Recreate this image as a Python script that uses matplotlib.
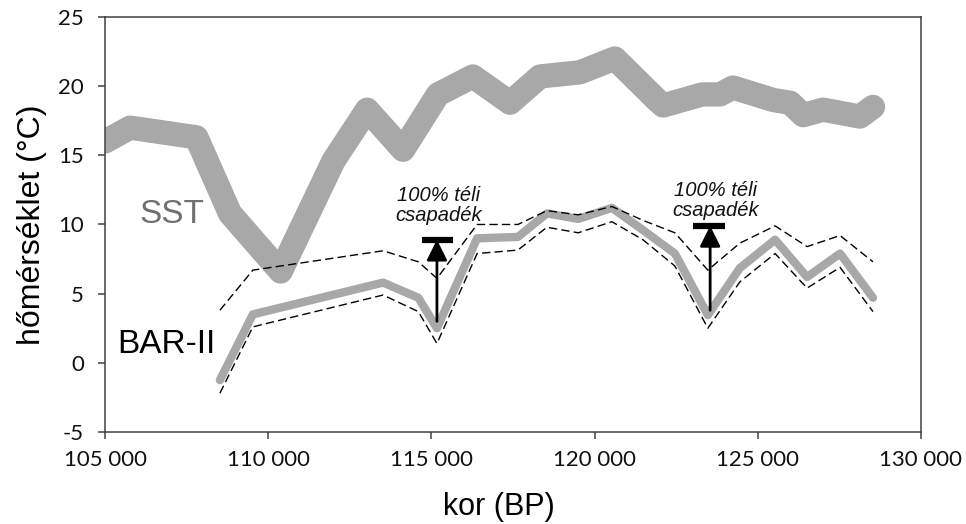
## plot.py
# SST and BAR-II temperature reconstructions vs age

import matplotlib
matplotlib.use("Agg")
import matplotlib.pyplot as plt
from matplotlib.ticker import FuncFormatter, MultipleLocator

# ===== Data =====
sst_age = [105000, 105770, 107800, 108830, 110380, 112000, 113030, 114130, 115200,
           116270, 117410, 118330, 119550, 120620, 121910, 122100, 122700, 123290,
           123840, 124240, 125470, 125990, 126390, 127000, 128130, 128530]
sst_temp = [16.0, 17.0, 16.3, 10.8, 6.6, 14.6, 18.3, 15.4, 19.4,
            20.7, 18.8, 20.7, 21.0, 22.0, 19.0, 18.6, 19.0, 19.4,
            19.4, 19.9, 19.0, 18.8, 17.9, 18.3, 17.8, 18.5]

bar_age = [108520, 109530, 113520, 114600, 115170, 116400, 117650, 118540, 119500,
           120530, 121480, 122460, 123470, 124450, 125530, 126510, 127520, 128530]
bar_temp = [-1.25, 3.5, 5.8, 4.7, 2.5, 9.0, 9.1, 10.8, 10.4,
            11.2, 9.6, 7.9, 3.45, 6.85, 8.9, 6.2, 7.9, 4.7]
bar_upper = [3.8, 6.7, 8.1, 7.3, 6.1, 10.0, 10.0, 11.0, 10.7,
             11.3, 10.3, 9.4, 6.7, 8.65, 9.9, 8.4, 9.2, 7.3]
bar_lower = [-2.2, 2.6, 4.9, 3.7, 1.4, 7.9, 8.15, 9.8, 9.4,
             10.2, 8.9, 7.0, 2.5, 5.85, 7.9, 5.4, 6.9, 3.7]

# arrows "100% winter precipitation"
arrow_age = [115170, 123540]
arrow_from = [3.0, 3.8]
arrow_to = [8.9, 9.9]
bar_left = [114710, 123010]
bar_right = [115660, 123990]
note_age = [115230, 123720]
note_y = [11.35, 11.75]
note_text = "100% téli\ncsapadék"

x_ticks = [105000, 110000, 115000, 120000, 125000, 130000]

# ===== Plot =====
plt.rcParams["font.family"] = ["Liberation Sans", "DejaVu Sans"]

fig = plt.figure(figsize=(9.66, 5.24), dpi=100)
ax = fig.add_axes([0.1087, 0.1756, 0.8447, 0.792])

gray = "#a8a8a8"
ax.plot(sst_age, sst_temp, color=gray, lw=17.5, solid_capstyle="round",
        solid_joinstyle="round", zorder=2)
ax.plot(bar_age, bar_temp, color=gray, lw=6, solid_capstyle="round",
        solid_joinstyle="round", zorder=2)
ax.plot(bar_age, bar_upper, color="black", lw=1.0, dashes=(6, 3), zorder=3)
ax.plot(bar_age, bar_lower, color="black", lw=1.0, dashes=(6, 3), zorder=3)

for i in range(len(arrow_age)):
    ax.annotate("", xy=(arrow_age[i], arrow_to[i]), xytext=(arrow_age[i], arrow_from[i]),
                arrowprops=dict(arrowstyle="-|>,head_length=0.5,head_width=0.25",
                                color="black", lw=2, mutation_scale=25,
                                shrinkA=0, shrinkB=0), zorder=4)
    ax.plot([bar_left[i], bar_right[i]], [arrow_to[i], arrow_to[i]], color="black",
            lw=4.5, solid_capstyle="butt", zorder=4)
    ax.text(note_age[i], note_y[i], note_text, ha="center", va="center",
            fontsize=14.5, style="italic", linespacing=1.05, color="#111111")

ax.text(107050, 10.7, "SST", fontsize=24, color="#707070", ha="center", va="center")
ax.text(106870, 1.3, "BAR-II", fontsize=24, color="black", ha="center", va="center")

# ===== Axes =====
ax.set_xlim(105000, 130000)
ax.set_ylim(-5, 25)
ax.set_xticks(x_ticks)
ax.yaxis.set_major_locator(MultipleLocator(5))
ax.xaxis.set_major_formatter(FuncFormatter(lambda v, p: f"{v:,.0f}".replace(",", " ")))
ax.yaxis.set_major_formatter(FuncFormatter(lambda v, p: f"{v:.0f}"))

for s in ax.spines.values():
    s.set_color("#404040")
    s.set_linewidth(1.1)
ax.tick_params(axis="both", direction="out", length=5, width=1.1, color="#404040",
               labelsize=16, labelcolor="#111111")
ax.tick_params(axis="y", pad=10)
ax.tick_params(axis="x", pad=8)
for lab in ax.get_xticklabels() + ax.get_yticklabels():
    lab.set_family(["Lato", "DejaVu Sans"])

ax.set_xlabel("kor (BP)", fontsize=22)
ax.set_ylabel("hőmérséklet (°C)", fontsize=23, labelpad=8)
ax.xaxis.set_label_coords(0.483, -0.145)

fig.savefig("out.png", dpi=100)
